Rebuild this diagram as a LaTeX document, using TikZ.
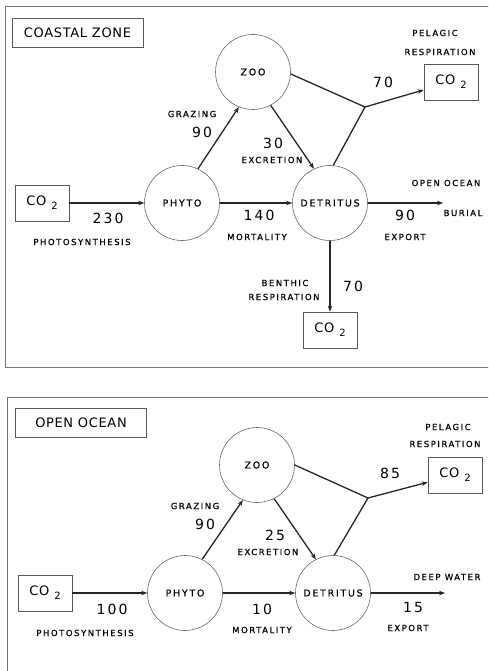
\documentclass[tikz,border=0pt]{standalone}
\usepackage{fontspec}
\usetikzlibrary{arrows.meta}
\newfontfamily\lblfont[LetterSpace=18, FakeBold=0.6]{DejaVu Sans}
\newfontfamily\numfont[LetterSpace=15]{DejaVu Sans}
\newfontfamily\ttlfont[LetterSpace=5]{DejaVu Sans}
\newcommand{\cotwo}{CO\hspace{5pt}\raisebox{-4pt}{\fontsize{10}{10}\selectfont 2}}

\begin{document}
\begin{tikzpicture}[x=1pt, y=-1pt,
    pool/.style={circle, draw=black!60, line width=0.6pt, minimum size=75pt, inner sep=0pt,
      font=\lblfont\fontsize{9.5}{11}\selectfont},
    sink/.style={draw=black!65, line width=0.7pt, minimum width=54pt, minimum height=36pt,
      inner sep=0pt, font=\ttlfont\fontsize{13}{15}\selectfont},
    ttlbox/.style={draw=black!65, line width=0.7pt, minimum width=131pt, minimum height=29pt,
      inner sep=0pt, font=\ttlfont\fontsize{13}{15}\selectfont},
    panel/.style={draw=black!55, line width=0.8pt},
    link/.style={line width=1.3pt, black!85},
    flux/.style={link, -{Stealth[length=6pt, width=4.5pt]}},
    lbl/.style={inner sep=0pt, font=\lblfont\fontsize{8.5}{10}\selectfont},
    num/.style={inner sep=0pt, font=\numfont\fontsize{14}{16}\selectfont}]
  \clip (0,0) rectangle (488,671);

  % 1. two panels
  \draw[panel] (5,6) rectangle (500,367);
  \draw[panel] (7,397) rectangle (500,690);

  % 2. coastal zone: boxes and pools
  \node[ttlbox] (ttl1) at (77.5,32.5) {COASTAL ZONE};
  \node[pool] (zoo1) at (253,72) {ZOO};
  \node[pool] (phy1) at (182,203) {PHYTO};
  \node[pool] (det1) at (330,203) {DETRITUS};
  \node[sink] (src1) at (42,203) {\cotwo};
  \node[sink] (pel1) at (451,82) {\cotwo};
  \node[sink] (ben1) at (330,330) {\cotwo};
  \coordinate (jn1) at (365,107);
  \coordinate (out1) at (443,203);

  % 3. coastal zone: fluxes
  \draw[flux] (src1) -- (phy1);
  \draw[flux] (phy1) -- (det1);
  \draw[flux] (det1) -- (out1);
  \draw[flux] (det1) -- (ben1);
  \draw[flux] (phy1.65) -- (zoo1.248);
  \draw[flux] (zoo1.298) -- (det1.115);
  \draw[link] (zoo1.-3) -- (jn1) -- (det1.85);
  \draw[flux] (jn1) -- (pel1);

  % 4. coastal zone: labels
  \node[lbl] (pl1) at (435,33) {PELAGIC};
  \node[lbl] (rs1) at (440,52) {RESPIRATION};
  \node[num] (n70a) at (383,82) {70};
  \node[lbl] (gz1) at (192,114) {GRAZING};
  \node[num] (n90a) at (202,132) {90};
  \node[num] (n30) at (273,143) {30};
  \node[lbl] (ex1) at (272,160) {EXCRETION};
  \node[num] (n230) at (108,218) {230};
  \node[lbl] (ps1) at (82,242) {PHOTOSYNTHESIS};
  \node[num] (n140) at (259,215) {140};
  \node[lbl] (mo1) at (257,237) {MORTALITY};
  \node[lbl] (oo1) at (446,183) {OPEN OCEAN};
  \node[num] (n90b) at (405,215) {90};
  \node[lbl] (bu1) at (463,213) {BURIAL};
  \node[lbl] (xp1) at (405,237) {EXPORT};
  \node[lbl] (bn1) at (285,283) {BENTHIC};
  \node[lbl] (br1) at (284,297) {RESPIRATION};
  \node[num] (n70b) at (353,286) {70};

  % 5. open ocean: boxes and pools
  \node[ttlbox] (ttl2) at (81,422.5) {OPEN OCEAN};
  \node[pool] (zoo2) at (257,465) {ZOO};
  \node[pool] (phy2) at (185,593) {PHYTO};
  \node[pool] (det2) at (333,593) {DETRITUS};
  \node[sink] (src2) at (45,593) {\cotwo};
  \node[sink] (pel2) at (455,475) {\cotwo};
  \coordinate (jn2) at (368,498);
  \coordinate (out2) at (445,593);

  % 6. open ocean: fluxes
  \draw[flux] (src2) -- (phy2);
  \draw[flux] (phy2) -- (det2);
  \draw[flux] (det2) -- (out2);
  \draw[flux] (phy2.63) -- (zoo2.248);
  \draw[flux] (zoo2.297) -- (det2.117);
  \draw[link] (zoo2.0) -- (jn2) -- (det2.88);
  \draw[flux] (jn2) -- (pel2);

  % 7. open ocean: labels
  \node[lbl] (pl2) at (448,427) {PELAGIC};
  \node[lbl] (rs2) at (445,444) {RESPIRATION};
  \node[num] (n85) at (390,473) {85};
  \node[lbl] (gz2) at (195,506) {GRAZING};
  \node[num] (n90c) at (205,524) {90};
  \node[num] (n25) at (275,535) {25};
  \node[lbl] (ex2) at (268,552) {EXCRETION};
  \node[num] (n100) at (112,609) {100};
  \node[lbl] (ps2) at (85,633) {PHOTOSYNTHESIS};
  \node[num] (n10) at (262,609) {10};
  \node[lbl] (mo2) at (262,630) {MORTALITY};
  \node[lbl] (dw2) at (447,577) {DEEP WATER};
  \node[num] (n15) at (413,607) {15};
  \node[lbl] (xp2) at (408,628) {EXPORT};
\end{tikzpicture}
\end{document}
